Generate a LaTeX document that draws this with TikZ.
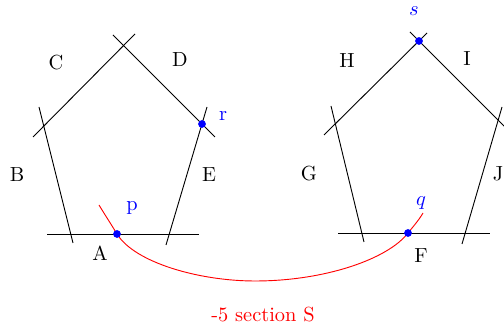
\documentclass[tikz,border=0pt]{standalone}
\usepackage{tikz}

\begin{document}
\begin{tikzpicture}[
  x=0.49pt, y=0.49pt,
  side/.style={line width=0.45pt},
  dot/.style={circle, fill=blue, inner sep=0pt, minimum size=3.8pt},
  lbl/.style={inner sep=1pt},
  ptlbl/.style={inner sep=1pt, text=blue},
  sect/.style={red, line width=0.45pt},
]
  \clip (0,0) rectangle (504,327);

  % Left pentagon
  \draw[side] (47,93)   -- (199,93);
  \draw[side] (39,220)  -- (73,84);
  \draw[side] (33,190)  -- (135,293);
  \draw[side] (113,292) -- (215,190);
  \draw[side] (207,220) -- (166,82);

  \node[lbl] (lA) at (100,74)  {A};
  \node[lbl] (lB) at (17,152)  {B};
  \node[lbl] (lC) at (56,264)  {C};
  \node[lbl] (lD) at (180,267) {D};
  \node[lbl] (lE) at (209,152) {E};

  % Right pentagon
  \draw[side] (338,94)  -- (490,94);
  \draw[side] (331,221) -- (364,85);
  \draw[side] (324,192) -- (427,294);
  \draw[side] (410,295) -- (512,193);
  \draw[side] (502,220) -- (462,83);

  \node[lbl] (lF) at (421,71)  {F};
  \node[lbl] (lG) at (309,153) {G};
  \node[lbl] (lH) at (347,266) {H};
  \node[lbl] (lI) at (467,268) {I};
  \node[lbl] (lJ) at (498,153) {J};

  % Points
  \coordinate (p) at (117,93);
  \coordinate (q) at (408,94);
  \coordinate (r) at (202,203);
  \coordinate (s) at (419,286);

  % Section curve
  \coordinate (cs) at (99,122);
  \coordinate (cb) at (255,46);
  \coordinate (ce) at (423,114);
  \draw[sect] (cs) .. controls (105,112) and (111,103) .. (p)
              .. controls (135,64) and (200,46) .. (cb)
              .. controls (325,46) and (388,68) .. (q)
              .. controls (412,99) and (419,107) .. (ce);

  \node[dot] (dp) at (p) {};
  \node[dot] (dq) at (q) {};
  \node[dot] (dr) at (r) {};
  \node[dot] (ds) at (s) {};

  \node[ptlbl] (lp) at (132,119) {p};
  \node[ptlbl] (lq) at (421,124) {$q$};
  \node[ptlbl] (lr) at (223,211) {r};
  \node[ptlbl] (ls) at (414,316) {$s$};

  \node[text=red] (lS) at (263,12) {-5 section S};
\end{tikzpicture}
\end{document}
